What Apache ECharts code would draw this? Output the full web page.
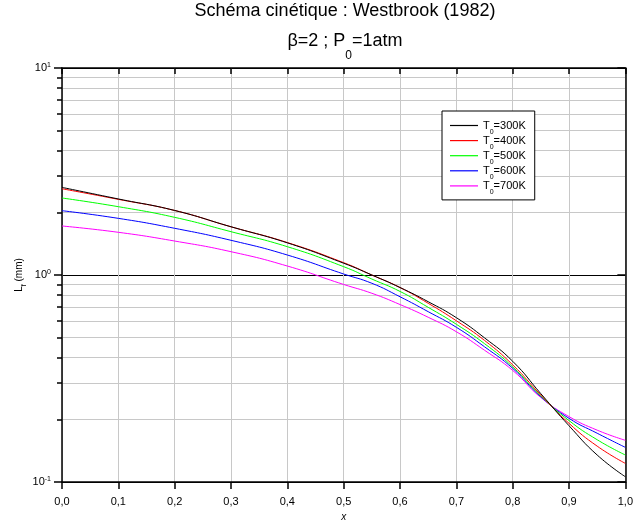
<!DOCTYPE html>
<html><head><meta charset="utf-8">
<script src="https://cdn.jsdelivr.net/npm/echarts@6/dist/echarts.min.js"></script>
<style>html,body{margin:0;padding:0;background:#fff}#c{width:636px;height:528px}</style>
</head><body><div id="c"></div>
<script>
// ---- data ----
const xValues = [0, 0.1, 0.2, 0.3, 0.4, 0.5, 0.55, 0.6, 0.65, 0.7, 0.75, 0.8, 0.85, 0.9, 0.95, 1.0];
const T300 = [2.65, 2.33, 2.05, 1.71, 1.43, 1.14, 1.0, 0.87, 0.743, 0.622, 0.497, 0.383, 0.267, 0.187, 0.135, 0.106];
const T400 = [2.61, 2.32, 2.05, 1.71, 1.435, 1.147, 1.0, 0.87, 0.73, 0.601, 0.483, 0.368, 0.263, 0.192, 0.149, 0.123];
const T500 = [2.355, 2.138, 1.899, 1.619, 1.37, 1.097, 0.956, 0.833, 0.698, 0.578, 0.466, 0.36, 0.26, 0.198, 0.160, 0.135];
const T600 = [2.045, 1.878, 1.681, 1.471, 1.249, 1.011, 0.912, 0.785, 0.665, 0.559, 0.45, 0.354, 0.258, 0.203, 0.172, 0.147];
const T700 = [1.725, 1.608, 1.459, 1.296, 1.105, 0.90, 0.816, 0.72, 0.625, 0.532, 0.433, 0.346, 0.256, 0.207, 0.178, 0.159];
const seriesLabels = ['300K', '400K', '500K', '600K', '700K'];
const seriesColors = ['#000000', '#ff0000', '#00ff00', '#0000ff', '#ff00ff'];
const yMinorTicks = [0.2, 0.3, 0.4, 0.5, 0.6, 0.7, 0.8, 0.9, 2, 3, 4, 5, 6, 7, 8, 9];
const titleLine1 = 'Schéma cinétique : Westbrook (1982)';

const allSeries = [T300, T400, T500, T600, T700];
const FONT = 'Liberation Sans, Arial, sans-serif';

const chart = echarts.init(document.getElementById('c'), null, {renderer: 'canvas'});

function yLabel(v) {
  const e = Math.round(Math.log10(v));
  return '{b|10}{e|' + e + '}';
}
const yRich = {
  b: {fontSize: 11, fontFamily: FONT, color: '#000', lineHeight: 12, verticalAlign: 'middle'},
  e: {fontSize: 7, fontFamily: FONT, color: '#000', lineHeight: 7, verticalAlign: 'top'}
};

const baseY = {type: 'log', logBase: 10, min: 0.1, max: 10, gridIndex: 0};

const option = {
  animation: false,
  backgroundColor: '#fff',
  title: [
    {text: titleLine1, left: 345, top: 1, textAlign: 'center', padding: 0,
     textStyle: {fontSize: 18, fontWeight: 'normal', fontFamily: FONT, color: '#000', lineHeight: 20}},
    {text: '{a|β=2 ; P}{s|0}{a|=1atm}', left: 345, top: 20, textAlign: 'center', padding: 0,
     textStyle: {fontSize: 18, fontWeight: 'normal', fontFamily: FONT, color: '#000',
       rich: {
         a: {fontSize: 18, fontFamily: FONT, color: '#000', lineHeight: 20, verticalAlign: 'middle'},
         s: {fontSize: 12, fontFamily: FONT, color: '#000', lineHeight: 42, verticalAlign: 'bottom'}
       }}}
  ],
  legend: {
    orient: 'vertical', left: 442, top: 111,
    padding: [9, 9, 4, 8],
    backgroundColor: '#fff', borderColor: '#000', borderWidth: 1, borderRadius: 0,
    icon: 'rect', itemWidth: 28, itemHeight: 1.2, itemGap: -0.4,
    data: seriesLabels,
    formatter: n => '{a|T}{s|0}{a|=' + n + '}',
    textStyle: {fontSize: 11, fontFamily: FONT, color: '#000',
      rich: {
        a: {fontSize: 11, fontFamily: FONT, color: '#000', lineHeight: 13, verticalAlign: 'middle'},
        s: {fontSize: 7, fontFamily: FONT, color: '#000', lineHeight: 20, verticalAlign: 'bottom'}
      }}
  },
  grid: {left: 62, right: 8, top: 68, bottom: 46, containLabel: false},
  xAxis: [
    {type: 'value', position: 'bottom', min: 0, max: 1, interval: 0.1,
     name: 'x', nameLocation: 'middle', nameGap: 29,
     nameTextStyle: {fontSize: 10, fontStyle: 'italic', fontFamily: FONT, color: '#000'},
     axisLine: {onZero: false, lineStyle: {color: '#000', width: 1.5}},
     axisTick: {show: true, inside: false, length: 7, lineStyle: {color: '#000', width: 1.5}},
     axisLabel: {margin: 14, fontSize: 11, fontFamily: FONT, color: '#000',
       formatter: v => v.toFixed(1).replace('.', ',')},
     splitLine: {show: true, lineStyle: {color: '#c8c8c8', width: 1}}},
    {type: 'value', position: 'top', min: 0, max: 1, interval: 0.1,
     axisLine: {onZero: false, lineStyle: {color: '#000', width: 1.5}},
     axisTick: {show: true, inside: true, length: 6, lineStyle: {color: '#000', width: 1.5}},
     axisLabel: {show: false}, splitLine: {show: false}}
  ],
  yAxis: [
    Object.assign({}, baseY, {position: 'left',
     name: '{a|L}{s|f}{a| (mm)}', nameLocation: 'middle', nameGap: 34, nameRotate: 90,
     nameMoveOverlap: false,
     nameTextStyle: {fontSize: 10, fontFamily: FONT, color: '#000',
       rich: {
         a: {fontSize: 10, fontFamily: FONT, color: '#000', lineHeight: 12, verticalAlign: 'middle'},
         s: {fontSize: 7, fontFamily: FONT, color: '#000', lineHeight: 17, verticalAlign: 'bottom'}
       }},
     axisLine: {onZero: false, lineStyle: {color: '#000', width: 1.5}},
     axisTick: {show: true, inside: false, length: 8, lineStyle: {color: '#000', width: 1.5}},
     axisLabel: {margin: 11, formatter: yLabel, rich: yRich},
     splitLine: {show: true, lineStyle: {color: '#000', width: 1}}}),
    Object.assign({}, baseY, {position: 'left',
     axisLine: {show: false},
     axisTick: {show: true, inside: false, length: 5, customValues: yMinorTicks, lineStyle: {color: '#000', width: 1.5}},
     axisLabel: {show: false},
     splitLine: {show: true, lineStyle: {color: '#c8c8c8', width: 1}}}),
    Object.assign({}, baseY, {position: 'right',
     axisLine: {onZero: false, lineStyle: {color: '#000', width: 1.5}},
     axisTick: {show: true, inside: true, length: 8, lineStyle: {color: '#000', width: 1.5}},
     axisLabel: {show: false}, splitLine: {show: false}}),
    Object.assign({}, baseY, {position: 'right',
     axisLine: {show: false},
     axisTick: {show: true, inside: true, length: 4, customValues: yMinorTicks, lineStyle: {color: '#000', width: 1.5}},
     axisLabel: {show: false}, splitLine: {show: false}})
  ],
  series: allSeries.map((arr, i) => ({
    name: seriesLabels[i], type: 'line', xAxisIndex: 0, yAxisIndex: 0,
    data: xValues.map((x, j) => [x, arr[j]]),
    smooth: 0.5, showSymbol: false, symbol: 'none',
    lineStyle: {color: seriesColors[i], width: 1},
    itemStyle: {color: seriesColors[i]},
    z: 3 + (4 - i)
  }))
};
chart.setOption(option);
</script></body></html>
